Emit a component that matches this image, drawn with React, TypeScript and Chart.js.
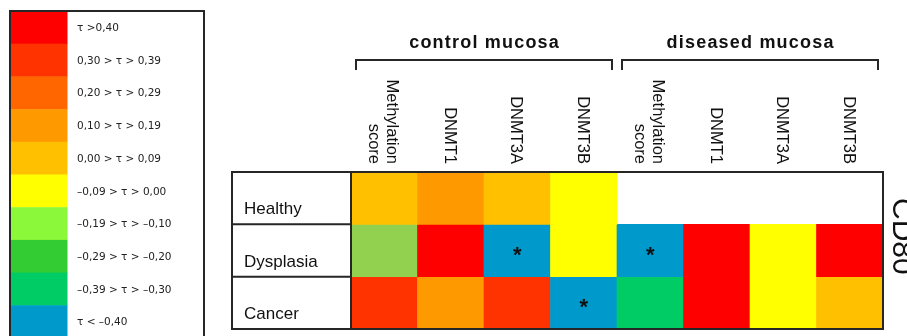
import { useEffect, useRef } from "react";
import { Chart, registerables } from "chart.js";

Chart.register(...registerables);

// ---- data ----
const columnLabels: string[][] = [
  ["Methylation", "score"],
  ["DNMT1"],
  ["DNMT3A"],
  ["DNMT3B"],
  ["Methylation", "score"],
  ["DNMT1"],
  ["DNMT3A"],
  ["DNMT3B"],
];
const groupLabels = ["control mucosa", "diseased mucosa"];
const groupFirstColumn = [0, 4];
const groupLastColumn = [3, 7];
const rowLabels = ["Healthy", "Dysplasia", "Cancer"];

// estimated Kendall tau per cell (null = not tested)
const healthyTau: (number | null)[] = [0.05, 0.15, 0.05, -0.05, null, null, null, null];
const dysplasiaTau: (number | null)[] = [-0.15, 0.45, -0.45, -0.05, -0.45, 0.45, -0.05, 0.45];
const cancerTau: (number | null)[] = [0.35, 0.15, 0.35, -0.45, -0.35, 0.45, -0.05, 0.05];

const healthySig = [false, false, false, false, false, false, false, false];
const dysplasiaSig = [false, false, true, false, true, false, false, false];
const cancerSig = [false, false, false, true, false, false, false, false];

const rowTau = [healthyTau, dysplasiaTau, cancerTau];
const rowSig = [healthySig, dysplasiaSig, cancerSig];

const legendLabels = [
  "\u03C4 >0,40",
  "0,30 > \u03C4 > 0,39",
  "0,20 > \u03C4 > 0,29",
  "0,10 > \u03C4 > 0,19",
  "0,00 > \u03C4 > 0,09",
  "\u20130,09 > \u03C4 > 0,00",
  "\u20130,19 > \u03C4 > \u20130,10",
  "\u20130,29 > \u03C4 > \u20130,20",
  "\u20130,39 > \u03C4 > \u20130,30",
  "\u03C4 < \u20130,40",
];
const binLowerBounds = [0.4, 0.3, 0.2, 0.1, 0.0, -0.1, -0.2, -0.3, -0.4, -Infinity];
const legendColors = [
  "#FF0000", "#FF3300", "#FF6600", "#FF9900", "#FFC000",
  "#FFFF00", "#8CF83A", "#33CC33", "#00CC66", "#0099CC",
];
const cellColors = [
  "#FF0000", "#FF3300", "#FF6600", "#FF9900", "#FFC000",
  "#FFFF00", "#92D050", "#33CC33", "#00CC66", "#0099CC",
];
const sideLabel = "CD80";

// ---- helpers ----
function binOf(v: number): number {
  for (let i = 0; i < binLowerBounds.length; i++) {
    if (v >= binLowerBounds[i]) return i;
  }
  return binLowerBounds.length - 1;
}

const SANS = '"Liberation Sans", Arial, sans-serif';
const LINE = "#262626";

const decorPlugin = {
  id: "decor",
  afterDraw(chart: any) {
    const ctx: CanvasRenderingContext2D = chart.ctx;
    const xs = chart.scales.x;
    const ys = chart.scales.y;
    const area = chart.chartArea;
    const colW = (area.right - area.left) / columnLabels.length;

    ctx.save();

    // ---- legend ----
    const lgLeft = 10, lgTop = 11, lgRight = 204, swW = 56.5, rowH = 32.7;
    legendColors.forEach((c, i) => {
      ctx.fillStyle = c;
      ctx.fillRect(lgLeft + 1, lgTop + i * rowH, swW, rowH + 0.5);
    });
    ctx.strokeStyle = LINE;
    ctx.lineWidth = 2;
    ctx.strokeRect(lgLeft, lgTop, lgRight - lgLeft, legendColors.length * rowH + 2);
    ctx.fillStyle = "#222";
    ctx.font = '10.5px "DejaVu Sans", sans-serif';
    ctx.textAlign = "left";
    ctx.textBaseline = "middle";
    legendLabels.forEach((t, i) => {
      ctx.fillText(t, 77, lgTop + i * rowH + rowH / 2 + 1);
    });

    // ---- table frame ----
    const tblLeft = 232;
    const top = ys.getPixelForValue(0);
    const bottom = ys.getPixelForValue(rowLabels.length);
    ctx.strokeStyle = LINE;
    ctx.lineWidth = 2;
    ctx.strokeRect(tblLeft, top, area.right - tblLeft, bottom - top);
    ctx.beginPath();
    ctx.moveTo(area.left, top);
    ctx.lineTo(area.left, bottom);
    for (let r = 1; r < rowLabels.length; r++) {
      const yy = ys.getPixelForValue(r);
      ctx.moveTo(tblLeft, yy);
      ctx.lineTo(area.left, yy);
    }
    ctx.stroke();

    // ---- row labels ----
    ctx.fillStyle = "#111";
    ctx.font = `17px ${SANS}`;
    ctx.textAlign = "left";
    ctx.textBaseline = "alphabetic";
    rowLabels.forEach((t, r) => {
      ctx.fillText(t, 244, ys.getPixelForValue(r + 1) - 10);
    });

    // ---- significance asterisks ----
    ctx.font = `bold 22px ${SANS}`;
    ctx.textAlign = "center";
    rowSig.forEach((row, r) => {
      row.forEach((s, c) => {
        if (!s) return;
        const cx = xs.getPixelForValue(c);
        const cy = (ys.getPixelForValue(r) + ys.getPixelForValue(r + 1)) / 2;
        ctx.fillText("*", cx, cy + 11);
      });
    });

    // ---- column labels (rotated) ----
    ctx.font = `16.5px ${SANS}`;
    ctx.textAlign = "right";
    ctx.textBaseline = "middle";
    columnLabels.forEach((lines, c) => {
      const cx = xs.getPixelForValue(c) - 1.5;
      ctx.save();
      ctx.translate(cx, top - 8);
      ctx.rotate(Math.PI / 2);
      const n = lines.length;
      lines.forEach((ln, j) => {
        ctx.fillText(ln, 0, (j - (n - 1) / 2) * 18);
      });
      ctx.restore();
    });

    // ---- group brackets & titles ----
    ctx.strokeStyle = LINE;
    ctx.lineWidth = 2;
    ctx.fillStyle = "#111";
    ctx.font = `bold 18px ${SANS}`;
    (ctx as any).letterSpacing = "1.2px";
    ctx.textAlign = "center";
    ctx.textBaseline = "alphabetic";
    groupLabels.forEach((g, i) => {
      const x0 = xs.getPixelForValue(groupFirstColumn[i]) - colW / 2 + 5;
      const x1 = xs.getPixelForValue(groupLastColumn[i]) + colW / 2 - 5;
      ctx.beginPath();
      ctx.moveTo(x0, 70);
      ctx.lineTo(x0, 60);
      ctx.lineTo(x1, 60);
      ctx.lineTo(x1, 70);
      ctx.stroke();
      ctx.fillText(g, (x0 + x1) / 2 + 0.6, 48);
    });
    (ctx as any).letterSpacing = "0px";

    // ---- side label ----
    ctx.font = `30px ${SANS}`;
    ctx.textAlign = "left";
    ctx.textBaseline = "alphabetic";
    ctx.fillStyle = "#111";
    ctx.save();
    ctx.translate(893, 198);
    ctx.rotate(Math.PI / 2);
    ctx.fillText(sideLabel, 0, 0);
    ctx.restore();

    ctx.restore();
  },
};

export default function App() {
  const ref = useRef<HTMLCanvasElement | null>(null);

  useEffect(() => {
    document.body.style.margin = "0";
    if (!ref.current) return;
    const chart = new Chart(ref.current, {
      type: "bar",
      data: {
        labels: columnLabels.map((l) => l.join(" ")),
        datasets: rowLabels.map((name, r) => ({
          label: name,
          data: rowTau[r].map((v) => (v === null ? null : [r, r + 1])) as any,
          backgroundColor: rowTau[r].map((v) =>
            v === null ? "rgba(0,0,0,0)" : cellColors[binOf(v)]
          ),
          grouped: false,
          barPercentage: 1,
          categoryPercentage: 1,
          borderWidth: 0,
        })),
      },
      options: {
        animation: false,
        responsive: false,
        devicePixelRatio: 1,
        events: [],
        layout: { padding: { left: 351, right: 24, top: 172, bottom: 7 } },
        plugins: {
          legend: { display: false },
          tooltip: { enabled: false },
        },
        scales: {
          x: { type: "category", display: false, offset: true },
          y: { type: "linear", min: 0, max: 3, reverse: true, display: false },
        },
      },
      plugins: [decorPlugin],
    });
    return () => chart.destroy();
  }, []);

  return (
    <div style={{ position: "absolute", left: 0, top: 0, width: 907, height: 336 }}>
      <canvas ref={ref} width={907} height={336} style={{ display: "block" }} />
    </div>
  );
}
